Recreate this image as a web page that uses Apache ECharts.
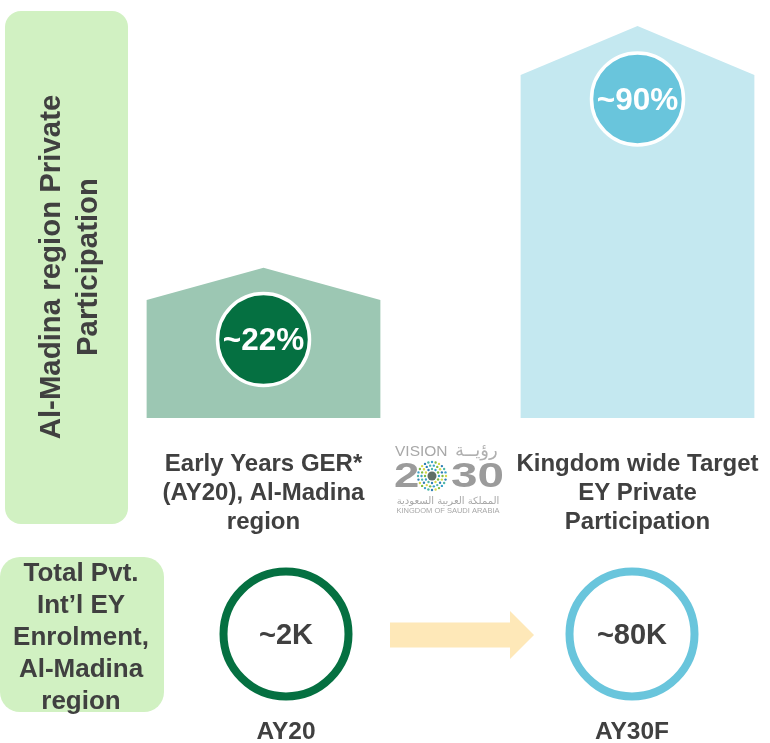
<!DOCTYPE html>
<html>
<head>
<meta charset="utf-8">
<title>Al-Madina private participation</title>
<script src="https://cdn.jsdelivr.net/npm/echarts@6/dist/echarts.min.js"></script>
<style>
  html, body { margin: 0; padding: 0; background: #fff; }
  #chart { width: 770px; height: 743px; }
</style>
</head>
<body>
<div id="chart"></div>
<script>
// top row: the middle category only leaves room for the Vision 2030 logo
const participationCats = ['Early Years GER*\n(AY20), Al-Madina\nregion', '', 'Kingdom wide Target\nEY Private\nParticipation']
const participationIdx = [0, 2]
const participationLabels = ['~22%', '~90%']
// house shapes are not to scale in the source, so these are drawn heights (top = 100)
const houseTops = [38.3, 100]
const houseShoulders = [30.1, 87.5]
const badgeLevels = [20.0, 81.4]

// bottom row
const enrolmentCats = ['AY20', '', 'AY30F']
const enrolmentIdx = [0, 2]
const enrolmentValues = [2, 80]
const enrolmentLabels = ['~2K', '~80K']

const DARK = '#404040'
const FONT = '"Liberation Sans", Arial, sans-serif'
const GREENS = {house: '#9cc7b3', solid: '#057041'}
const BLUES = {house: '#c4e8f0', solid: '#69c5dc'}
const houseColors = [GREENS.house, BLUES.house]
const solidColors = [GREENS.solid, BLUES.solid]

// Vision 2030 logo, approximated with text and a ring of small dots
const logo = []
const logoText = (text, x, y, font, extra, scaleX) => logo.push({
  type: 'text', z: 5, x, y, scaleX: scaleX || 1,
  style: Object.assign({text, font, fill: '#a8a8a8', textAlign: 'left', textVerticalAlign: 'middle'}, extra)
})
logoText('VISION', 395, 452, '15.5px ' + FONT)
logoText('رؤيــة', 455, 451, '18px "DejaVu Sans"', {fill: '#b0b0b0'})
logoText('2', 394, 477, 'bold 35px ' + FONT, {fill: '#9b9b9b'}, 1.3)
logoText('30', 451, 477, 'bold 35px ' + FONT, {fill: '#9b9b9b'}, 1.36)
logoText('المملكة العربية السعودية', 448, 501, '10px "DejaVu Sans"', {textAlign: 'center'})
logoText('KINGDOM OF SAUDI ARABIA', 448, 511, '7.5px ' + FONT, {textAlign: 'center'})
const dotColors = ['#3aa0c9', '#7dbb42', '#d5d84c', '#2f7fb5', '#4fb8a8']
for (let r = 0; r < 3; r++) {
  const n = 12 + r * 6
  for (let i = 0; i < n; i++) {
    const a = i / n * Math.PI * 2
    logo.push({
      type: 'circle', z: 5, silent: true,
      shape: {cx: 432 + Math.cos(a) * (7 + r * 3.5), cy: 476 + Math.sin(a) * (7 + r * 3.5), r: 1.2},
      style: {fill: dotColors[(i + r) % dotColors.length]}
    })
  }
}
logo.push({type: 'circle', z: 5, shape: {cx: 432, cy: 476, r: 4.5}, style: {fill: '#5f6f66'}})

const chart = echarts.init(document.getElementById('chart'), null, {renderer: 'canvas'})
chart.setOption({
  animation: false,
  backgroundColor: '#fff',
  grid: [
    {left: 170, top: 26, width: 561, height: 392, outerBoundsMode: 'none'},
    {left: 199.5, top: 568, width: 519, height: 132, outerBoundsMode: 'none'}
  ],
  xAxis: [
    {
      type: 'category', gridIndex: 0, data: participationCats,
      axisLine: {show: false}, axisTick: {show: false},
      axisLabel: {interval: 0, margin: 32, color: DARK, fontFamily: FONT, fontWeight: 'bold', fontSize: 24, lineHeight: 29, align: 'center'}
    },
    {
      type: 'category', gridIndex: 1, data: enrolmentCats,
      axisLine: {show: false}, axisTick: {show: false},
      axisLabel: {interval: 0, margin: 20, color: DARK, fontFamily: FONT, fontWeight: 'bold', fontSize: 24.5}
    }
  ],
  yAxis: [
    {type: 'value', gridIndex: 0, min: 0, max: 100, show: false},
    {type: 'category', gridIndex: 1, data: ['enrolment'], show: false}
  ],
  graphic: [
    {
      type: 'rect', z: 1,
      shape: {x: 5, y: 11, width: 123, height: 513, r: 16},
      style: {fill: '#d1f1c2'}
    },
    {
      type: 'text', z: 2, x: 70, y: 267, rotation: Math.PI / 2,
      style: {
        text: 'Al-Madina region Private\nParticipation',
        font: 'bold 29.4px ' + FONT, lineHeight: 37, fill: DARK,
        textAlign: 'center', textVerticalAlign: 'middle'
      }
    },
    {
      type: 'rect', z: 1,
      shape: {x: 0, y: 557, width: 164, height: 155, r: 20},
      style: {fill: '#d1f1c2'}
    },
    {
      type: 'text', z: 2, x: 81, y: 638,
      style: {
        text: 'Total Pvt.\nInt’l EY\nEnrolment,\nAl-Madina\nregion',
        font: 'bold 26px ' + FONT, lineHeight: 32, fill: DARK,
        textAlign: 'center', textVerticalAlign: 'middle'
      }
    }
  ].concat(logo),
  series: [
    {
      type: 'custom', xAxisIndex: 0, yAxisIndex: 0, z: 2,
      data: participationIdx.map((c, i) => [c, houseTops[i], houseShoulders[i], i]),
      renderItem: (params, api) => {
        const halfW = api.size([1, 0])[0] * 0.625
        const cx = api.coord([api.value(0), 0])[0]
        const base = api.coord([api.value(0), 0])[1]
        const top = api.coord([api.value(0), api.value(1)])[1]
        const shoulder = api.coord([api.value(0), api.value(2)])[1]
        return {
          type: 'polygon',
          shape: {points: [[cx - halfW, base], [cx - halfW, shoulder], [cx, top], [cx + halfW, shoulder], [cx + halfW, base]]},
          style: {fill: houseColors[api.value(3)]}
        }
      }
    },
    {
      type: 'scatter', xAxisIndex: 0, yAxisIndex: 0, z: 3,
      symbol: 'circle', symbolSize: 92,
      data: participationIdx.map((c, i) => ({
        value: [c, badgeLevels[i]],
        itemStyle: {color: solidColors[i], borderColor: '#fff', borderWidth: 3.5, opacity: 1},
        label: {show: true, position: 'inside', offset: [0, 2], formatter: participationLabels[i], color: '#fff', fontFamily: FONT, fontWeight: 'bold', fontSize: 31.5}
      }))
    },
    {
      type: 'custom', xAxisIndex: 1, yAxisIndex: 1, z: 2,
      data: [[1, 0]],
      renderItem: (params, api) => {
        const p = api.coord([api.value(0), 0])
        const cx = p[0] + 3
        const cy = p[1] + 1
        return {
          type: 'polygon',
          shape: {points: [
            [cx - 72, cy - 12.5], [cx + 48, cy - 12.5], [cx + 48, cy - 24], [cx + 72, cy],
            [cx + 48, cy + 24], [cx + 48, cy + 12.5], [cx - 72, cy + 12.5]
          ]},
          style: {fill: '#fee8b8'}
        }
      }
    },
    {
      type: 'scatter', xAxisIndex: 1, yAxisIndex: 1, z: 3,
      symbol: 'circle', symbolSize: 125,
      data: enrolmentIdx.map((c, i) => ({
        value: [c, 0, enrolmentValues[i]],
        itemStyle: {color: '#fff', borderColor: solidColors[i], borderWidth: 8, opacity: 1},
        label: {show: true, position: 'inside', offset: [0, 2], formatter: enrolmentLabels[i], color: DARK, fontFamily: FONT, fontWeight: 'bold', fontSize: 29}
      }))
    }
  ]
})
</script>
</body>
</html>
